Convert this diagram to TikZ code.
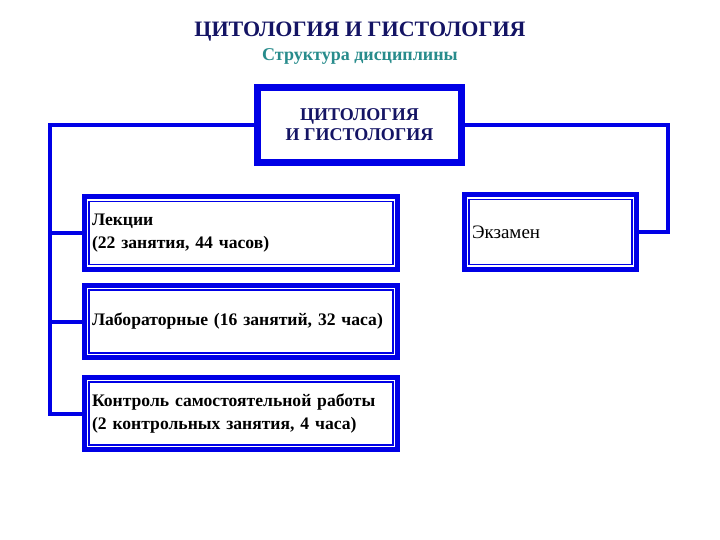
\documentclass[tikz,border=0pt]{standalone}
\usepackage{fontspec}
\setmainfont{Liberation Serif}
\usetikzlibrary{positioning}

\definecolor{frameblue}{RGB}{0,0,230}
\definecolor{titlenavy}{RGB}{20,20,100}
\definecolor{subteal}{RGB}{40,140,140}

\tikzset{
    framebox/.style={draw=frameblue,line width=5pt,fill=white,inner xsep=7.5pt,
        minimum width=#1,minimum height=72pt,text width=#1-15pt,align=left,
        font=\fontsize{17.6}{22.5}\selectfont\bfseries},
    innerline/.style={draw=frameblue,line width=1.6pt},
    link/.style={draw=frameblue,line width=4pt,line join=miter}
}

\begin{document}
\begin{tikzpicture}[x=1pt,y=-1pt]
        \useasboundingbox[fill=white] (0,0) rectangle (720,540);

        \node[font=\fontsize{22}{24}\selectfont\bfseries,text=titlenavy] (title) at (360,32) {ЦИТОЛОГИЯ И ГИСТОЛОГИЯ};
        \node[font=\fontsize{18}{20}\selectfont\bfseries,text=subteal] (sub) at (360,56) {Структура дисциплины};

        % connectors first, boxes on top
        \coordinate (lt) at (50,125);
        \coordinate (rt) at (667.5,125);
        \coordinate (lb) at (50,413.5);
        \coordinate (rb) at (667.5,232);

        \node[draw=frameblue,line width=7pt,fill=white,minimum width=204pt,minimum height=75pt,
            align=center,text=titlenavy,font=\fontsize{18}{20}\selectfont\bfseries] (disc) at (359.5,125) {ЦИТОЛОГИЯ\\И ГИСТОЛОГИЯ};
        \node[framebox=313pt] (lect) at (241,233) {Лекции\\(22 занятия, 44 часов)};
        \node[framebox=313pt] (lab) at (241,321.5) {Лабораторные (16 занятий, 32 часа)};
        \node[framebox=313pt] (ctrl) at (241,413.5) {Контроль самостоятельной работы\\(2 контрольных занятия, 4 часа)};
        \node[framebox=172pt,minimum height=74pt,font=\fontsize{19}{22}\selectfont] (exam) at (550.5,232) {Экзамен};

        \foreach \n in {lect,lab,ctrl,exam}
            \draw[innerline] ([xshift=7.2pt,yshift=-7.2pt]\n.north west) rectangle ([xshift=-7.2pt,yshift=7.2pt]\n.south east);

        \draw[link] (disc.west) -- (lt) -- (lb) -- (ctrl.west);
        \draw[link] (lt |- lect.west) -- (lect.west);
        \draw[link] (lt |- lab.west) -- (lab.west);
        \draw[link] (disc.east) -- (rt) -- (rb) -- (exam.east);

    \end{tikzpicture}
\end{document}
